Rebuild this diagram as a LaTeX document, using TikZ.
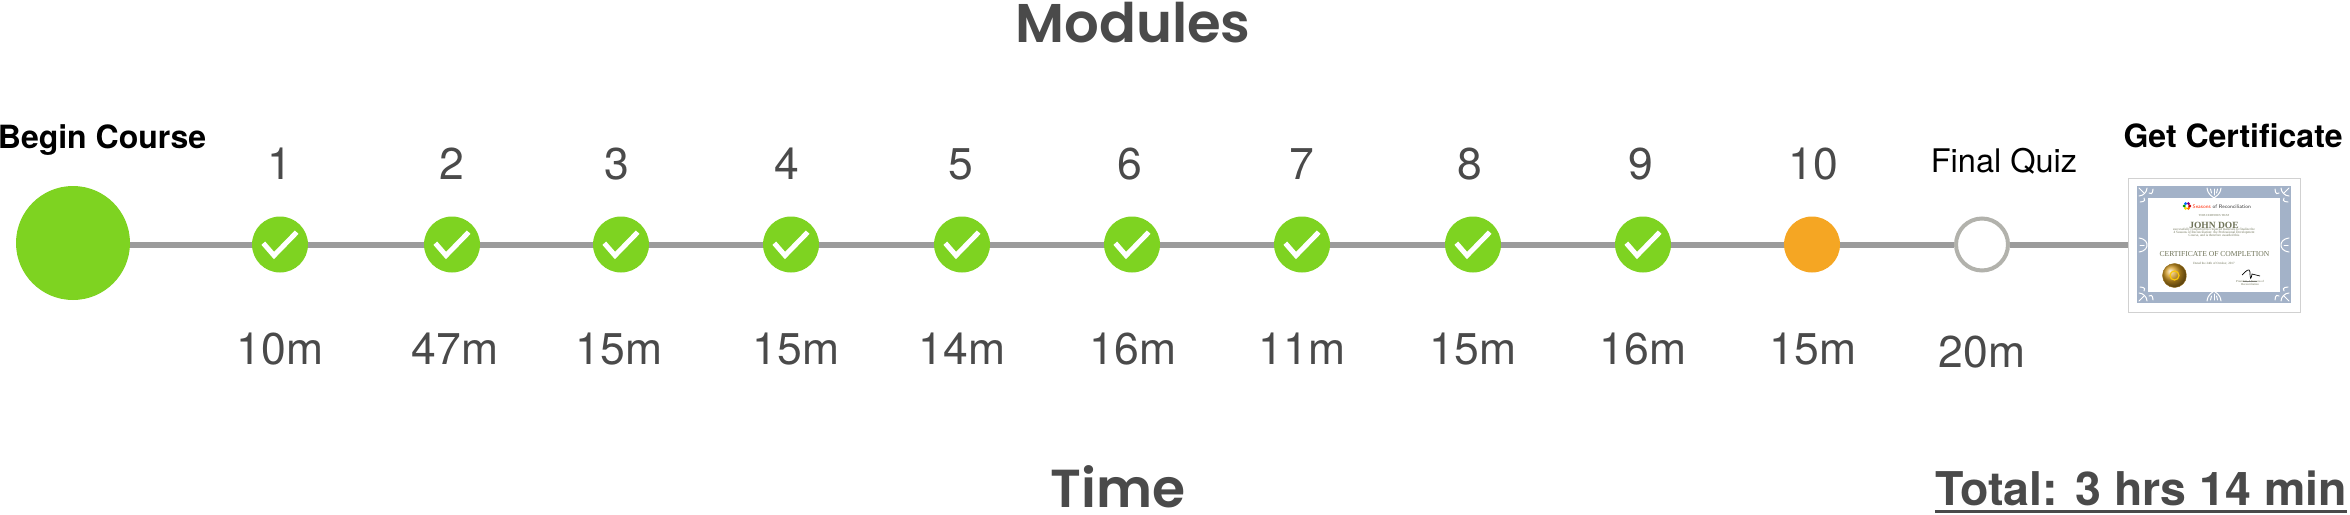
\documentclass[tikz,border=0pt]{standalone}
\usepackage{fontspec}
\setmainfont{TeX Gyre Heros}
\newfontfamily\headfont{Poppins SemiBold}
\newfontfamily\certfont{Liberation Serif}
\definecolor{tgreen}{HTML}{7ED321}
\definecolor{torange}{HTML}{F5A623}
\definecolor{tline}{HTML}{9B9B9B}
\definecolor{tring}{HTML}{B2B2AC}
\definecolor{ttext}{HTML}{4A4A4A}
\definecolor{tframe}{HTML}{A3B2C8}
\definecolor{tcert}{HTML}{6F7358}
\definecolor{tgold}{HTML}{D39A22}
\newcommand{\fs}[1]{\fontsize{#1}{#1}\selectfont}
\tikzset{
  x=1pt,y=-1pt,
  conn/.style={draw=tline,line width=6pt},
  dot/.style={circle,minimum size=56pt,inner sep=0pt,fill=tgreen},
  tick/.style={draw=white,line width=5pt,line join=miter},
  lab/.style={anchor=base,inner sep=0pt,text=ttext,font=\fs{44.5}},
  head/.style={anchor=base,inner sep=0pt,text=ttext,font=\headfont\fs{54.5}},
  blk/.style={anchor=base,inner sep=0pt,text=black,font=\bfseries\fs{32}},
  tiny/.style={anchor=base,inner sep=0pt,align=center,text=tcert,font=\certfont\fs{4}},
  orn/.style={draw=white,line width=1pt,line cap=round},
}
\newcommand{\chk}[1]{\draw[tick] ([shift={(-16.7,-1.3)}]#1.center) -- ([shift={(-6,11)}]#1.center) -- ([shift={(16.7,-12.3)}]#1.center);}
\begin{document}
\begin{tikzpicture}
\useasboundingbox (0,0) rectangle (2350,514);
\node[head] (title) at (1133,42) {Modules};
\node[head,font=\headfont\fs{53.5}] (timet) at (1118,507) {Time};
\node[anchor=base,inner sep=0pt,text=ttext,font=\bfseries\fs{46.5}] (total) at (2141,505) {Total: 3 hrs 14 min};
\draw[ttext,line width=3pt] ([yshift=-6.5pt]total.base west) -- ([yshift=-6.5pt]total.base east);
\node[blk] (begint) at (102,148) {Begin Course};
\node[blk] (gett) at (2233,147) {Get Certificate};
\node[anchor=base,inner sep=0pt,text=black,font=\fs{32.5}] (quizt) at (2004,172.5) {Final Quiz};
% nodes
\node[circle,minimum size=114pt,inner sep=0pt,fill=tgreen] (n0) at (73,243) {};
\foreach \i/\x in {1/280,2/452,3/621,4/791,5/962,6/1132,7/1302,8/1473,9/1643}
  \node[dot] (n\i) at (\x,244.5) {};
\node[dot,fill=torange] (n10) at (1812,244.5) {};
\node[dot,fill=white,draw=tring,line width=4pt,minimum size=52pt] (n11) at (1982,244.5) {};
\node[rectangle,draw=black!18,fill=white,line width=1pt,minimum width=172pt,minimum height=134pt,inner sep=0pt] (cert) at (2214,245) {};
% connectors
\foreach \a/\b in {0/1,1/2,2/3,3/4,4/5,5/6,6/7,7/8,8/9,9/10,10/11}
  \draw[conn] (n\a.east |- 0,244.5) -- (n\b.west |- 0,244.5);
\draw[conn] (n11.east |- 0,244.5) -- (cert.west |- 0,244.5);
\foreach \i in {1,...,9} {\chk{n\i}}
% labels
\foreach \t/\x in {1/280,2/452,3/617,4/787,5/961,6/1130,7/1302,8/1470,9/1641,10/1813}
  \node[lab] (l\t) at (\x,179) {\t};
\foreach \i/\t/\x in {1/10m/280,2/47m/455,3/15m/619,4/15m/796,5/14m/962,6/16m/1133,7/11m/1302,8/15m/1473,9/16m/1643,10/15m/1813}
  \node[lab] (d\i) at (\x,364) {\t};
\node[lab] (d11) at (1982,367) {20m};
% certificate
\node[rectangle,fill=tframe,minimum width=154pt,minimum height=117pt,inner sep=0pt] (cframe) at (2214,244.5) {};
\node[rectangle,fill=white,minimum width=132pt,minimum height=94pt,inner sep=0pt] (cin) at (2214,245) {};
\foreach \cx/\cy/\sx/\sy in {2137/186/1/1,2291/186/-1/1,2137/303/1/-1,2291/303/-1/-1} {
  \begin{scope}[shift={(\cx,\cy)},xscale=\sx,yscale=\sy]
    \draw[orn] (2,10) .. controls (6,10) and (10,6) .. (10,2);
    \draw[orn] (2,2) -- (7,7);
    \draw[orn] (3,16) .. controls (8,16) and (9,13) .. (7,12);
    \draw[orn] (16,3) .. controls (16,8) and (13,9) .. (12,7);
  \end{scope}
}
\foreach \cy/\sy in {187/1,302/-1} {
  \begin{scope}[shift={(2214,\cy)},yscale=\sy]
    \draw[orn] (-7,1) .. controls (-6,8) and (-2,9) .. (0,11) .. controls (2,9) and (6,8) .. (7,1);
    \draw[orn] (0,2) -- (0,8);
    \draw[orn] (-3.5,2) -- (-2.5,6);
    \draw[orn] (3.5,2) -- (2.5,6);
  \end{scope}
}
\foreach \cx/\sx in {2138/1,2290/-1} {
  \begin{scope}[shift={(\cx,245)},xscale=\sx]
    \draw[orn] (1,-7) .. controls (8,-6) and (9,-2) .. (9,0) .. controls (9,2) and (8,6) .. (1,7);
    \draw[orn] (2,0) -- (6,0);
  \end{scope}
}
\node[tiny,text=black!80,font=\sffamily\fs{5.2}] (c1) at (2219.5,208) {\textcolor{red!70!orange}{4 Seasons} of Reconciliation};
\foreach \a/\c in {0/red!80!black,60/orange,120/yellow!80!orange,180/green!60!black,240/blue!60!cyan,300/violet}
  \fill[\c] (2187,206) ++(\a:2.8) circle (1.6pt);
\node[tiny,font=\certfont\fs{3}] (c2) at (2214,216.5) {THIS CERTIFIES THAT};
\node[tiny,font=\certfont\bfseries\fs{9.5}] (c3) at (2214,228) {JOHN DOE};
\node[tiny,font=\certfont\fs{3.4}] (c4) at (2214,236) {successfully completed the required materials to finalize the\\[-0.5pt]4 Seasons of Reconciliation: the Professional Development\\[-0.5pt]Course, and is therefore awarded this};
\node[tiny,font=\certfont\fs{7.6}] (c5) at (2214.5,256) {CERTIFICATE OF COMPLETION};
\node[tiny,font=\certfont\fs{3.2}] (c6) at (2214,264) {Dated the 24th of October, 2017};
\shade[ball color=tgold,draw=tgold!70!black,line width=.4pt] (2174.5,275.5) circle (12pt);
\node[circle,draw=yellow!60!orange,line width=1.2pt,minimum size=9pt,inner sep=0pt] (sealin) at (2174.5,275.5) {};
\draw[black!50,line width=.8pt] (2243,281.5) -- (2257,281.5);
\node[tiny,font=\certfont\fs{3}] (c7) at (2250,285) {President, 4 Seasons of\\[-0.5pt]Reconciliation};
\draw[black,line width=.7pt] (2242,275) .. controls (2247,270) and (2249,268) .. (2250,272) .. controls (2250,280) and (2251,280) .. (2252,274) -- (2260,276);
\end{tikzpicture}
\end{document}
